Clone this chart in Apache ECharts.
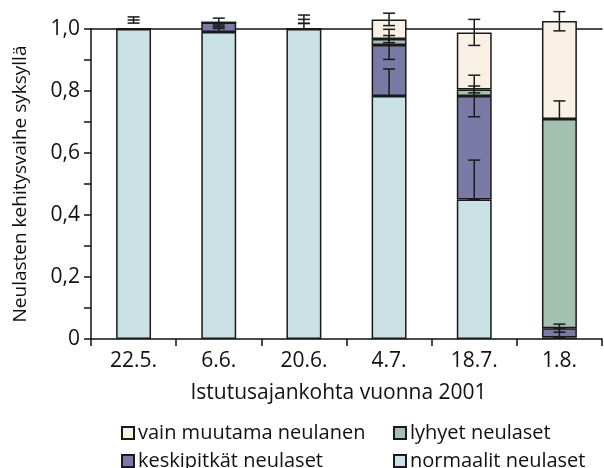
<!DOCTYPE html>
<html>
<head>
<meta charset="utf-8">
<script src="https://cdn.jsdelivr.net/npm/echarts@6/dist/echarts.min.js"></script>
<style>
  html, body { margin: 0; padding: 0; background: #fff; }
  #chart { width: 604px; height: 468px; }
</style>
</head>
<body>
<div id="chart"></div>
<script>
// Istutusajankohdat (planting dates)
const categories = ['22.5.', '6.6.', '20.6.', '4.7.', '18.7.', '1.8.'];

// Osuudet kehitysvaiheittain (stacked shares)
const normaalit   = [1.000, 0.990, 1.000, 0.784, 0.450, 0.005];
const keskipitkat = [0.000, 0.031, 0.000, 0.164, 0.334, 0.030];
const lyhyet      = [0.000, 0.000, 0.000, 0.020, 0.021, 0.675];
const vainMuutama = [0.000, 0.000, 0.000, 0.063, 0.184, 0.316];

// Keskivirheet [alaraja, yläraja]
const errNormaalit   = [null, [0.990, 1.002], [1.000, 1.018], [0.784, 0.871], [0.450, 0.577], [0.005, 0.035]];
const errKeskipitkat = [[1.019, 1.039], [1.007, 1.035], [1.018, 1.045], [0.902, 0.999], [0.717, 0.851], [0.022, 0.048]];
const errLyhyet      = [[1.029, 1.029], [1.013, 1.013], [1.031, 1.031], [0.956, 0.979], [0.794, 0.816], [0.710, 0.768]];
const errVain        = [null, null, null, [1.011, 1.051], [0.947, 1.031], [0.994, 1.056]];

const yTicks = [0, 0.2, 0.4, 0.6, 0.8, 1.0];

const colors = {
  'normaalit neulaset': '#c9e0e4',
  'keskipitkät neulaset': '#7a7aa6',
  'lyhyet neulaset': '#a4c0b0',
  'vain muutama neulanen': '#f9f1e4'
};

const FONT = '"Open Sans", Lato, sans-serif';

function barSeries(name, values) {
  return {
    name: name,
    type: 'bar',
    stack: 'osuus',
    barWidth: '41%',
    clip: false,
    data: values,
    itemStyle: { color: colors[name], borderColor: '#1a1a1a', borderWidth: 1.5 },
    emphasis: { disabled: true }
  };
}

const errorData = [];
[errNormaalit, errKeskipitkat, errLyhyet, errVain].forEach(function (arr) {
  arr.forEach(function (r, i) {
    if (r) errorData.push([i, r[0], r[1]]);
  });
});

const chart = echarts.init(document.getElementById('chart'), null, { renderer: 'canvas' });

function legendAt(name, left, top) {
  return {
    data: [name],
    left: left,
    top: top,
    padding: 0,
    icon: 'rect',
    itemWidth: 12,
    itemHeight: 12,
    itemGap: 4,
    selectedMode: false,
    textStyle: { fontFamily: FONT, fontSize: 20, color: '#111', padding: [0, 0, 0, -1] }
  };
}

chart.setOption({
  animation: false,
  grid: { left: 91, right: 2, top: 29, bottom: 129, containLabel: false },
  legend: [
    legendAt('vain muutama neulanen', 121, 423),
    legendAt('lyhyet neulaset', 393, 423),
    legendAt('keskipitkät neulaset', 121, 451),
    legendAt('normaalit neulaset', 393, 451)
  ],
  xAxis: [{
    type: 'category',
    data: categories,
    boundaryGap: true,
    axisLine: { lineStyle: { color: '#111', width: 1.5 } },
    axisTick: { show: true, length: 7, alignWithLabel: false, lineStyle: { color: '#111', width: 1.5 } },
    axisLabel: { color: '#111', fontFamily: FONT, fontSize: 21, margin: 12 },
    name: 'Istutusajankohta vuonna 2001',
    nameLocation: 'middle',
    nameGap: 44,
    nameTextStyle: { color: '#111', fontFamily: FONT, fontSize: 21, padding: [0, 16, 0, 0] }
  }, {
    type: 'category',
    data: categories,
    position: 'top',
    axisLine: { show: true, lineStyle: { color: '#111', width: 1.5 } },
    axisTick: { show: false },
    axisLabel: { show: false }
  }],
  yAxis: {
    type: 'value',
    min: 0,
    max: 1.0,
    interval: 0.2,
    axisLine: { show: true, lineStyle: { color: '#111', width: 1.5 } },
    axisTick: { show: true, length: 7, lineStyle: { color: '#111', width: 1.5 } },
    minorTick: { show: true, splitNumber: 2, length: 7, lineStyle: { color: '#111', width: 1.5 } },
    splitLine: { show: false },
    axisLabel: {
      color: '#111', fontFamily: FONT, fontSize: 21, margin: 11,
      formatter: function (v) {
        const t = yTicks.find(function (k) { return Math.abs(k - v) < 1e-9; });
        if (t === undefined) return '';
        return t === 0 ? '0' : t.toFixed(1).replace('.', ',');
      }
    },
    name: 'Neulasten kehitysvaihe syksyllä',
    nameLocation: 'middle',
    nameGap: 61,
    nameTextStyle: { color: '#111', fontFamily: FONT, fontSize: 19 }
  },
  series: [
    barSeries('normaalit neulaset', normaalit),
    barSeries('keskipitkät neulaset', keskipitkat),
    barSeries('lyhyet neulaset', lyhyet),
    barSeries('vain muutama neulanen', vainMuutama),
    {
      name: 'keskivirhe',
      type: 'custom',
      clip: false,
      z: 5,
      data: errorData,
      renderItem: function (params, api) {
        const x = api.value(0);
        const lo = api.coord([x, api.value(1)]);
        const hi = api.coord([x, api.value(2)]);
        const half = 6;
        const style = { stroke: '#1a1a1a', lineWidth: 1.5, fill: null };
        const children = [
          { type: 'line', shape: { x1: hi[0] - half, y1: hi[1], x2: hi[0] + half, y2: hi[1] }, style: style }
        ];
        if (Math.abs(lo[1] - hi[1]) > 0.5) {
          children.push({ type: 'line', shape: { x1: lo[0], y1: lo[1], x2: hi[0], y2: hi[1] }, style: style });
          children.push({ type: 'line', shape: { x1: lo[0] - half, y1: lo[1], x2: lo[0] + half, y2: lo[1] }, style: style });
        }
        return { type: 'group', children: children };
      }
    }
  ]
});
</script>
</body>
</html>
